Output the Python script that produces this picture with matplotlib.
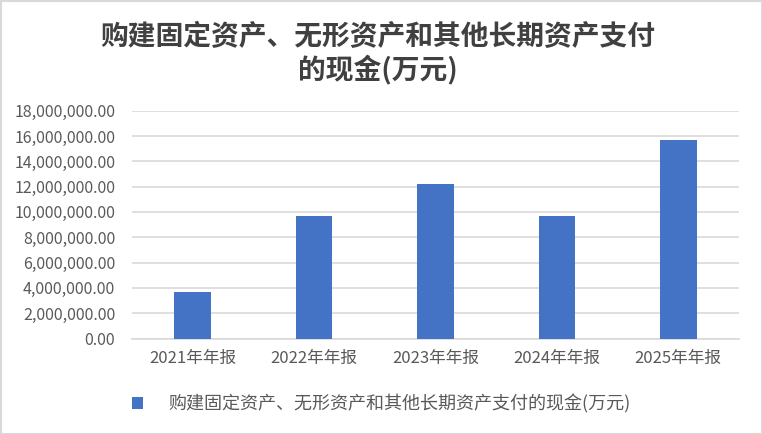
import matplotlib.pyplot as plt
from matplotlib.ticker import FuncFormatter
from matplotlib.patches import Rectangle

plt.rcParams['font.family'] = ['Noto Sans CJK SC', 'DejaVu Sans']

categories = ['2021年年报', '2022年年报', '2023年年报', '2024年年报', '2025年年报']
values = [3700000, 9700000, 12220000, 9700000, 15700000]
series_name = '购建固定资产、无形资产和其他长期资产支付的现金(万元)'
title = '购建固定资产、无形资产和其他长期资产支付\n的现金(万元)'

W, H = 762, 434
fig = plt.figure(figsize=(W / 100, H / 100), dpi=100)
ax = fig.add_axes([132 / W, 1 - 338.5 / H, (739 - 132) / W, (338.5 - 110.7) / H])

x = range(len(categories))
ax.bar(x, values, width=0.3, color='#4472C4', zorder=3, label=series_name)
ax.set_xlim(-0.5, len(categories) - 0.5)
ax.set_ylim(0, 18000000)
ax.set_yticks(range(0, 18000001, 2000000))
ax.yaxis.set_major_formatter(FuncFormatter(lambda v, p: f'{v:,.2f}'))
ax.set_xticks(list(x))
ax.set_xticklabels(categories)

ax.grid(axis='y', color='#D9D9D9', linewidth=1.2, zorder=0)
for s in ['top', 'right', 'left']:
    ax.spines[s].set_visible(False)
ax.spines['bottom'].set_color('#D9D9D9')
ax.spines['bottom'].set_linewidth(1.2)
ax.tick_params(axis='both', length=0, colors='#595959')
ax.tick_params(axis='y', labelsize=11.5, pad=12)
ax.tick_params(axis='x', labelsize=12, pad=8)

fig.text(0.5 - 3 / W, 1 - 54 / H, title, ha='center', va='center', fontsize=20,
         fontweight='bold', color='#404040', linespacing=1.15)

fig.legend(loc='center', bbox_to_anchor=(381 / W, 1 - 404 / H), frameon=False,
           fontsize=13, labelcolor='#595959', handlelength=0.6, handleheight=0.6,
           handletextpad=1.4)

fig.patches.append(Rectangle((0.5 / W, 0.5 / H), 1 - 1 / W, 1 - 1 / H, transform=fig.transFigure,
                             fill=False, edgecolor='#D9D9D9', linewidth=1.5))

fig.savefig('out.png', dpi=100)
